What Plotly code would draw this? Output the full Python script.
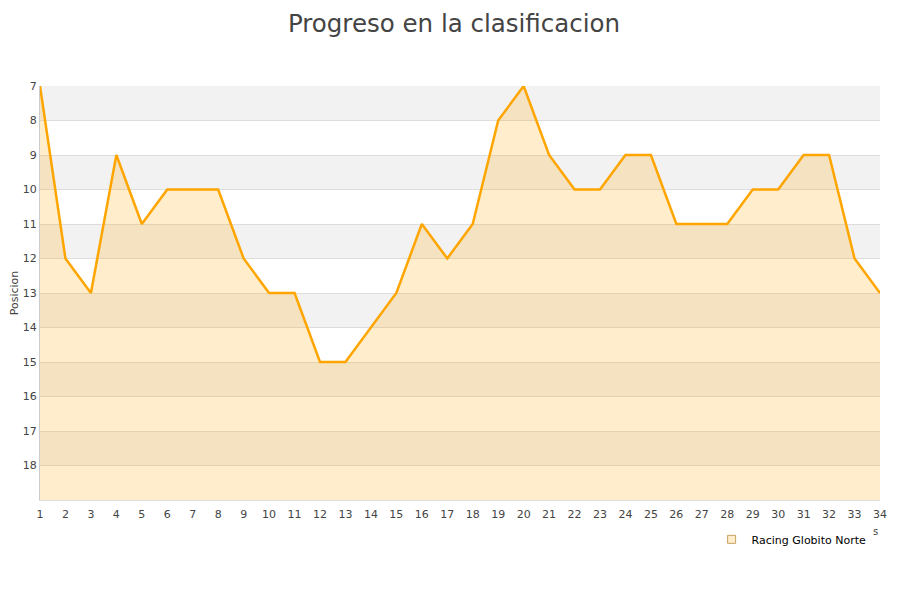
import plotly.graph_objects as go

jornadas = list(range(1, 35))
posicion = [7, 12, 13, 9, 11, 10, 10, 10, 12, 13, 13, 15, 15, 14, 13, 11, 12,
            11, 8, 7, 9, 10, 10, 9, 9, 11, 11, 11, 10, 10, 9, 9, 12, 13]
equipo = "Racing Globito Norte"
y_ticks = list(range(7, 19))

fig = go.Figure()

# hidden baseline at the bottom (axis is reversed) so the fill goes downwards
fig.add_trace(go.Scatter(
    x=jornadas, y=[19] * len(jornadas),
    mode="lines", line=dict(width=0),
    showlegend=False, hoverinfo="skip"
))
fig.add_trace(go.Scatter(
    x=jornadas, y=posicion,
    mode="lines", name=equipo,
    line=dict(color="#ffa500", width=2.5),
    fill="tonexty", fillcolor="rgba(255,165,0,0.2)",
    showlegend=False
))
# legend entry with a square box
fig.add_trace(go.Scatter(
    x=[None], y=[None], mode="markers", name=equipo,
    marker=dict(symbol="square", size=8, color="#ffedcc",
                line=dict(color="#c8a060", width=1))
))

# alternating bands
shapes = []
for i, v in enumerate(range(7, 19)):
    if i % 2 == 0:
        shapes.append(dict(type="rect", xref="paper", yref="y", x0=0, x1=1,
                           y0=v, y1=v + 1, fillcolor="#f2f2f2",
                           line=dict(width=0), layer="below"))

# page has an 8px body margin, so the figure is a bit smaller than the window
fig.update_layout(
    width=892, height=592,
    paper_bgcolor="white", plot_bgcolor="white",
    margin=dict(l=32, r=20, t=78, b=100, autoexpand=False),
    title=dict(text="Progreso en la clasificacion", x=0.5, y=0.974,
               xanchor="center", yanchor="middle",
               font=dict(family="DejaVu Sans", size=24.5, color="#444444")),
    font=dict(family="DejaVu Sans", size=11, color="#444444"),
    shapes=shapes,
    showlegend=True,
    legend=dict(x=0.99, y=-0.06, xanchor="right", yanchor="top",
                font=dict(size=11, color="#000000"), bgcolor="rgba(0,0,0,0)"),
    annotations=[dict(text="s", xref="paper", yref="paper", x=0.995, y=-0.077,
                      xanchor="center", yanchor="middle",
                      showarrow=False, font=dict(size=10, color="#444444"))],
)
fig.update_xaxes(range=[1, 34], tickmode="array", tickvals=jornadas,
                 showgrid=False, zeroline=False, showline=True,
                 linecolor="#dddddd", ticks="", tickfont=dict(size=11),
                 ticklabelstandoff=4, automargin=False)
fig.update_yaxes(range=[19, 7], tickmode="array", tickvals=y_ticks,
                 showgrid=True, gridcolor="#dddddd", zeroline=False,
                 showline=True, linecolor="#cccccc", ticks="",
                 title=dict(text="Posicion", font=dict(size=11), standoff=8),
                 tickfont=dict(size=11), automargin=False)

fig.write_html("out.html")
